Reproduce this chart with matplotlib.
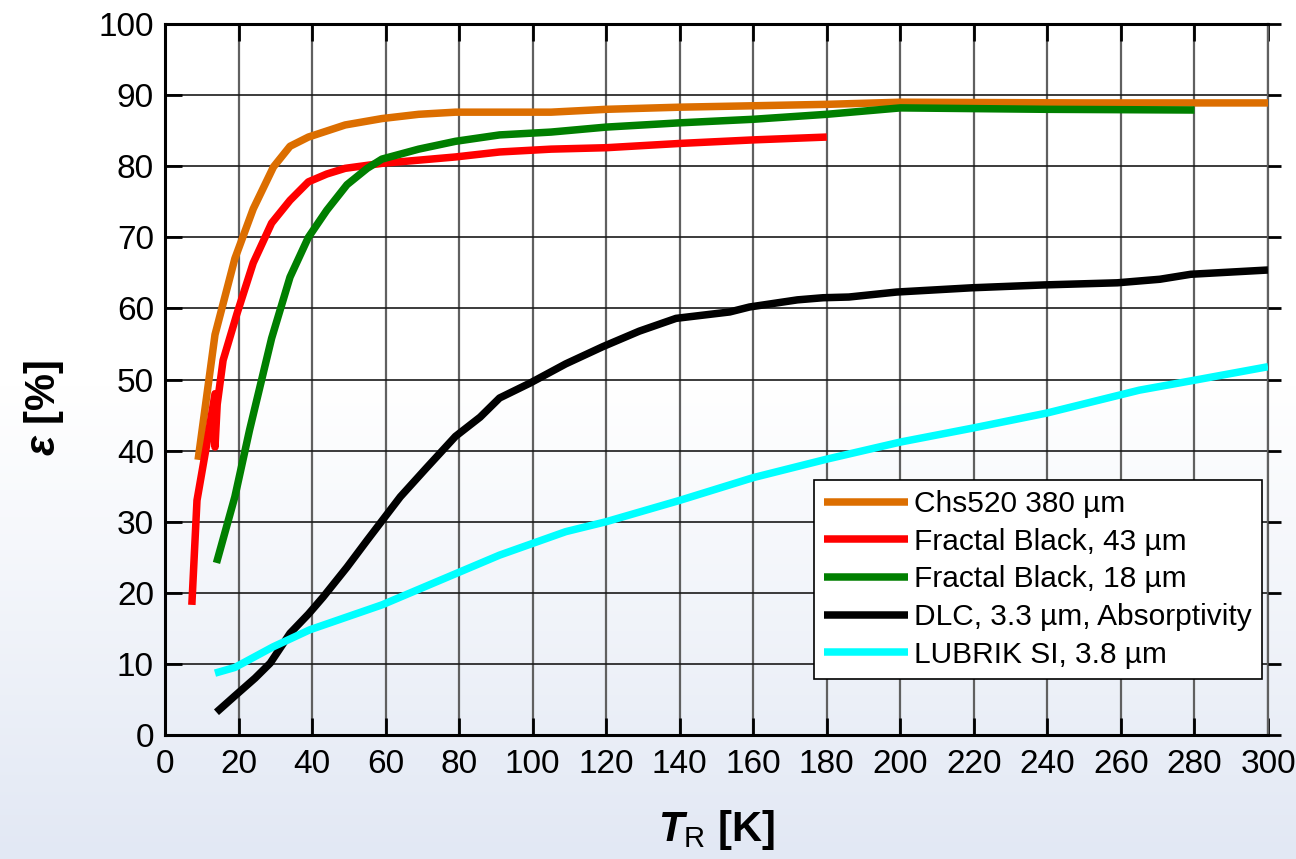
import numpy as np
import matplotlib
matplotlib.use("Agg")
import matplotlib.pyplot as plt
from matplotlib.colors import LinearSegmentedColormap

# ---- data ----
T_chs = [9, 13.6, 19, 24, 29.5, 34, 39, 49, 59, 69, 79, 91, 105, 120, 140, 160, 180, 200, 250, 300]
E_chs = [38.7, 56.3, 67, 74, 79.9, 82.8, 84.1, 85.8, 86.7, 87.3, 87.6, 87.6, 87.6, 88.0, 88.3, 88.5, 88.7, 89.0, 88.9, 88.9]

T_fb43 = [7.3, 8.7, 11.4, 13.6, 13.6, 14.2, 15.8, 19.6, 24, 29, 34, 39, 44, 49, 59, 79, 91, 105, 120, 140, 160, 180]
E_fb43 = [18.3, 33, 41, 48, 40.5, 46.5, 52.7, 59.3, 66.4, 72, 75.2, 77.8, 78.9, 79.7, 80.4, 81.3, 82.0, 82.4, 82.6, 83.2, 83.7, 84.1]

T_fb18 = [14, 19, 23, 29, 34, 39, 44, 49.5, 55, 59, 69, 79, 91, 105, 120, 140, 160, 180, 200, 240, 280]
E_fb18 = [24.2, 33.5, 42.9, 55.8, 64.4, 70, 73.8, 77.4, 79.7, 81.0, 82.4, 83.5, 84.4, 84.8, 85.5, 86.1, 86.6, 87.3, 88.2, 88.0, 87.9]

T_dlc = [14, 19, 24.5, 28.6, 34, 39, 43, 49.5, 55, 64, 71, 79, 85.7, 91, 99.3, 109, 119, 129, 139,
         153.6, 159, 172, 179, 186, 199, 219.5, 239, 259, 270.6, 279, 300]
E_dlc = [3.2, 5.5, 8, 10.1, 14.3, 17, 19.4, 23.6, 27.4, 33.5, 37.5, 42, 44.7, 47.4, 49.5, 52.2, 54.6, 56.8, 58.6,
         59.5, 60.2, 61.2, 61.5, 61.6, 62.3, 62.9, 63.3, 63.6, 64.1, 64.8, 65.4]

T_lub = [13.6, 19, 29.4, 39.4, 59, 91, 109, 120, 140, 160, 180, 200, 220, 240, 265, 280, 300]
E_lub = [8.7, 9.5, 12.4, 14.8, 18.3, 25.3, 28.6, 30, 33, 36.2, 38.8, 41.2, 43.2, 45.3, 48.5, 49.9, 51.8]

labels = ["Chs520 380 \u00b5m", "Fractal Black, 43 \u00b5m", "Fractal Black, 18 \u00b5m",
          "DLC, 3.3 \u00b5m, Absorptivity", "LUBRIK SI, 3.8 \u00b5m"]
colors = ["#DC6E00", "#FF0000", "#007F00", "#000000", "#00FFFF"]

x_ticks = list(range(0, 301, 20))
y_ticks = list(range(0, 101, 10))

# ---- style ----
plt.rcParams['font.family'] = ['Liberation Sans', 'DejaVu Sans']
plt.rcParams['mathtext.fontset'] = 'custom'
plt.rcParams['mathtext.it'] = 'Liberation Sans:italic:bold'
plt.rcParams['mathtext.rm'] = 'Liberation Sans:bold'
plt.rcParams['mathtext.sf'] = 'Liberation Sans'

fig = plt.figure(figsize=(12.96, 8.59), dpi=100)

# background gradient
bg = fig.add_axes([0, 0, 1, 1], zorder=-10)
cmap = LinearSegmentedColormap.from_list("bg", [(0, "#E2E8F4"), (0.55, "#FFFFFF"), (1, "#FFFFFF")])
grad = np.linspace(0, 1, 256).reshape(-1, 1)
bg.imshow(grad, aspect='auto', cmap=cmap, origin='lower', extent=[0, 1, 0, 1])
bg.axis('off')

ax = fig.add_axes([165/1296, 1 - 735/859, (1268-165)/1296, (735-24)/859])
ax.set_facecolor('none')

series = [(T_chs, E_chs), (T_fb43, E_fb43), (T_fb18, E_fb18), (T_dlc, E_dlc), (T_lub, E_lub)]
for (t, e), c, lab in zip(series, colors, labels):
    ax.plot(t, e, color=c, lw=5.4, label=lab, solid_capstyle='butt', solid_joinstyle='round', zorder=3)

ax.set_xlim(0, 300)
ax.set_ylim(0, 100)
ax.set_xticks(x_ticks)
ax.set_yticks(y_ticks)
ax.tick_params(axis='both', labelsize=24, direction='in', length=12, width=2, pad=8)
ax.tick_params(axis='x', top=True, pad=10)
ax.tick_params(axis='y', right=False)

# right-side outward ticks
ax_r = ax.twinx()
ax_r.set_ylim(0, 100)
ax_r.set_yticks(y_ticks)
ax_r.tick_params(axis='y', direction='out', length=9, width=2, labelright=False)
for s in ax_r.spines.values():
    s.set_visible(False)

# grid
for xv in x_ticks[1:]:
    ax.axvline(xv, color='#606060', lw=1.6, zorder=1)
for yv in y_ticks[1:]:
    ax.axhline(yv, color='#1a1a1a', lw=1.2, zorder=1)

for s in ['left', 'bottom', 'top']:
    ax.spines[s].set_linewidth(2.2)
ax.spines['right'].set_linewidth(1.6)
ax.spines['right'].set_color('#606060')

ax.set_xlabel(r'$T_{\mathsf{R}}$ [K]', fontsize=30, fontweight='bold')
ax.xaxis.set_label_coords(0.5, -0.102)
ax.set_ylabel(r'$\varepsilon$ [%]', fontsize=30, fontweight='bold')
ax.yaxis.set_label_coords(-0.09, 0.46)

leg = ax.legend(loc='lower right', bbox_to_anchor=(0.9946, 0.0788), borderaxespad=0,
                fontsize=21.5, frameon=True, fancybox=False, edgecolor='black',
                handlelength=2.8, handletextpad=0.2, labelspacing=0.32, borderpad=0.35)
leg.get_frame().set_linewidth(1.2)
leg.get_frame().set_facecolor('white')
leg.get_frame().set_alpha(1)
leg.set_zorder(5)

fig.savefig("out.png", dpi=100)
